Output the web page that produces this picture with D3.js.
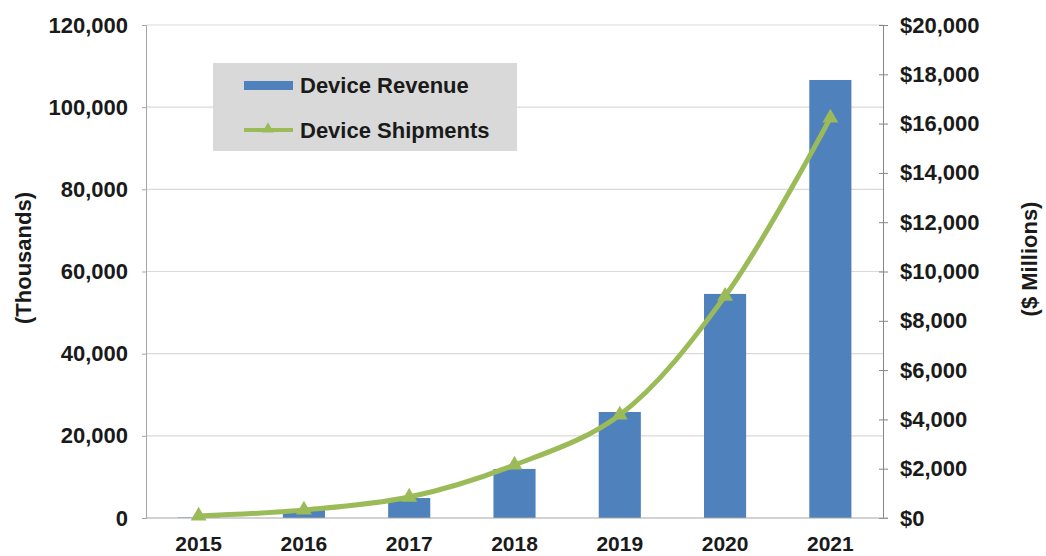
<!DOCTYPE html>
<html>
<head>
<meta charset="utf-8">
<script src="https://cdn.jsdelivr.net/npm/d3@7"></script>
<style>
  html, body { margin: 0; padding: 0; background: #fff; }
  svg { display: block; font-family: "Liberation Sans", Arial, sans-serif; font-weight: bold; }
</style>
</head>
<body>
<div id="chart"></div>
<script>
const years = ["2015", "2016", "2017", "2018", "2019", "2020", "2021"];
const revenue = [20, 325, 810, 1990, 4300, 9090, 17770];        // $ Millions (bars)
const shipments = [500, 1950, 5100, 12900, 25100, 54000, 97400]; // Thousands (line)
const leftTicks = [0, 20000, 40000, 60000, 80000, 100000, 120000];
const rightTicks = [0, 2000, 4000, 6000, 8000, 10000, 12000, 14000, 16000, 18000, 20000];

const width = 1046, height = 556;
const x0 = 146, x1 = 883, yTop = 25, yBot = 518;

const svg = d3.select("#chart")
  .append("svg")
  .attr("width", width)
  .attr("height", height);

const x = d3.scaleBand()
  .domain(years)
  .range([x0, x1])
  .paddingInner(0.6)
  .paddingOuter(0.3);

const yL = d3.scaleLinear().domain([0, 120000]).range([yBot, yTop]);
const yR = d3.scaleLinear().domain([0, 20000]).range([yBot, yTop]);

// gridlines
svg.append("g")
  .selectAll("line")
  .data(leftTicks.filter(d => d > 0))
  .join("line")
  .attr("x1", x0).attr("x2", x1)
  .attr("y1", d => yL(d)).attr("y2", d => yL(d))
  .attr("stroke", "#d9d9d9")
  .attr("stroke-width", 1.2);

// left axis
const leftAxis = svg.append("g")
  .attr("transform", `translate(${x0},0)`)
  .call(d3.axisLeft(yL).tickValues(leftTicks).tickSize(4).tickPadding(14)
    .tickFormat(d3.format(",")));
leftAxis.select(".domain").attr("stroke", "#a6a6a6");
leftAxis.selectAll(".tick line").attr("stroke", "#a6a6a6");
leftAxis.selectAll("text")
  .attr("font-size", 22).attr("font-weight", "bold").attr("fill", "#1a1a1a")
  .attr("font-family", "Liberation Sans, Arial, sans-serif");

// right axis
const rightAxis = svg.append("g")
  .attr("transform", `translate(${x1},0)`)
  .call(d3.axisRight(yR).tickValues(rightTicks).tickSizeInner(5).tickSizeOuter(0).tickPadding(12)
    .tickFormat(d => "$" + d3.format(",")(d)));
rightAxis.select(".domain").attr("stroke", "#868686");
rightAxis.selectAll(".tick line").attr("stroke", "#868686").attr("x1", -4);
rightAxis.selectAll("text")
  .attr("font-size", 22).attr("font-weight", "bold").attr("fill", "#1a1a1a")
  .attr("font-family", "Liberation Sans, Arial, sans-serif");

// bars
svg.append("g")
  .selectAll("rect")
  .data(years.map((yr, i) => ({ yr, v: revenue[i] })))
  .join("rect")
  .attr("x", d => x(d.yr))
  .attr("width", x.bandwidth())
  .attr("y", d => yR(d.v))
  .attr("height", d => yBot - yR(d.v))
  .attr("fill", "#4f81bd");

// baseline
svg.append("line")
  .attr("x1", x0).attr("x2", x1 + 5)
  .attr("y1", yBot).attr("y2", yBot)
  .attr("stroke", "#a6a6a6")
  .attr("stroke-width", 1.2);

// x labels
svg.append("g")
  .selectAll("text")
  .data(years)
  .join("text")
  .attr("x", d => x(d) + x.bandwidth() / 2)
  .attr("y", 551)
  .attr("text-anchor", "middle")
  .attr("font-size", 21)
  .attr("fill", "#1a1a1a")
  .text(d => d);

// shipments line
const pts = years.map((yr, i) => ({ yr, v: shipments[i] }));
const line = d3.line()
  .x(d => x(d.yr) + x.bandwidth() / 2)
  .y(d => yL(d.v))
  .curve(d3.curveCatmullRom.alpha(0.5));

svg.append("path")
  .datum(pts)
  .attr("fill", "none")
  .attr("stroke", "#9bbb59")
  .attr("stroke-width", 5)
  .attr("stroke-linejoin", "round")
  .attr("d", line);

const tri = d3.symbol().type(d3.symbolTriangle).size(110);
svg.append("g")
  .selectAll("path")
  .data(pts)
  .join("path")
  .attr("transform", d => `translate(${x(d.yr) + x.bandwidth() / 2},${yL(d.v)})`)
  .attr("d", tri)
  .attr("fill", "#9bbb59");

// axis titles
svg.append("text")
  .attr("transform", "translate(31,258) rotate(-90)")
  .attr("text-anchor", "middle")
  .attr("font-size", 22)
  .attr("fill", "#1a1a1a")
  .text("(Thousands)");

svg.append("text")
  .attr("transform", "translate(1037,259) rotate(-90)")
  .attr("text-anchor", "middle")
  .attr("font-size", 22)
  .attr("fill", "#1a1a1a")
  .text("($ Millions)");

// legend
const lg = svg.append("g");
lg.append("rect")
  .attr("x", 213).attr("y", 63)
  .attr("width", 304).attr("height", 88)
  .attr("fill", "#d9d9d9");
lg.append("rect")
  .attr("x", 244).attr("y", 81)
  .attr("width", 49).attr("height", 9)
  .attr("fill", "#4f81bd");
lg.append("line")
  .attr("x1", 244).attr("x2", 293)
  .attr("y1", 130).attr("y2", 130)
  .attr("stroke", "#9bbb59").attr("stroke-width", 4);
lg.append("path")
  .attr("transform", "translate(268,129)")
  .attr("d", d3.symbol().type(d3.symbolTriangle).size(60))
  .attr("fill", "#9bbb59");
lg.append("text")
  .attr("x", 300).attr("y", 93)
  .attr("font-size", 22).attr("fill", "#1a1a1a")
  .text("Device Revenue");
lg.append("text")
  .attr("x", 300).attr("y", 138)
  .attr("font-size", 22).attr("fill", "#1a1a1a")
  .text("Device Shipments");
</script>
</body>
</html>
